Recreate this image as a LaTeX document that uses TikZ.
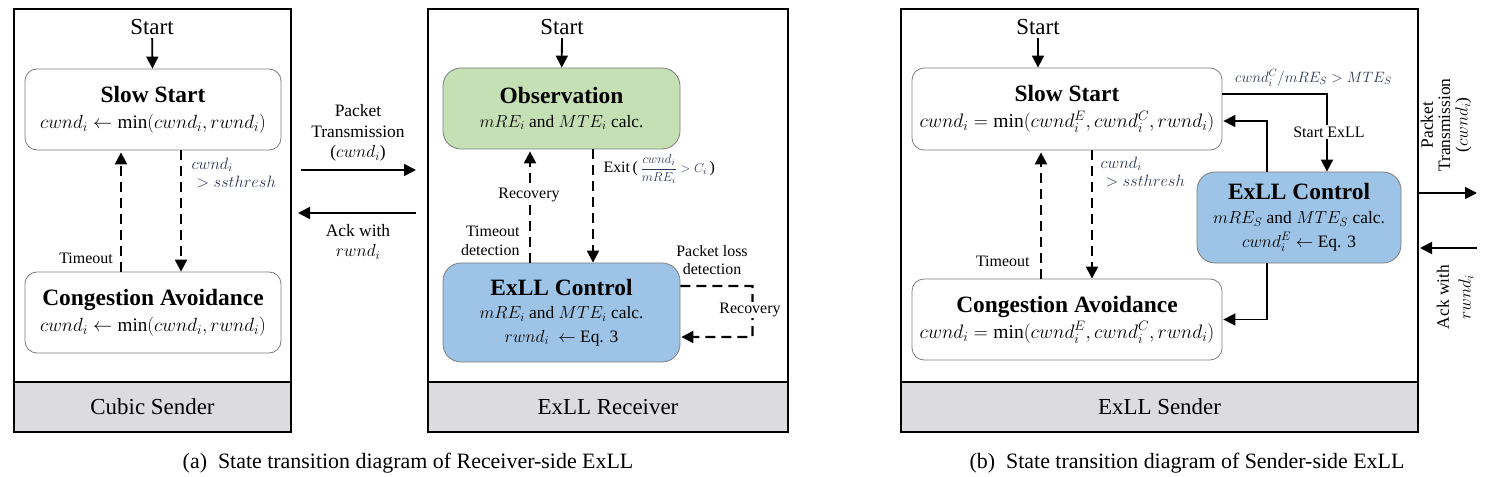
\RequirePackage{fix-cm}
\documentclass[tikz,border=0pt]{standalone}
\usepackage{amsmath,amssymb}
\usepackage{fontspec}
\setmainfont{Liberation Serif}
\usetikzlibrary{positioning,arrows.meta}

\definecolor{obsgreen}{RGB}{197,224,180}
\definecolor{ctlblue}{RGB}{157,195,230}
\definecolor{bandgray}{RGB}{220,220,222}
\definecolor{boxgray}{RGB}{125,125,125}
\definecolor{labelc}{RGB}{45,55,85}
\newcommand{\sttitle}[1]{{\fontsize{23.5}{26}\selectfont\bfseries #1}}

\begin{document}
\begin{tikzpicture}[>={Triangle[length=12bp,width=12bp]},x=1bp,y=-1bp,
  panel/.style={draw=black,line width=1.2bp},
  band/.style={draw=black,line width=1.2bp,fill=bandgray,minimum height=50bp,font=\fontsize{23}{26}\selectfont},
  state/.style={draw=boxgray,line width=0.8bp,rounded corners=12bp,align=center,minimum height=81bp,inner sep=0pt,font=\fontsize{19.6}{26}\selectfont},
  ctlstate/.style={state,rounded corners=18bp,font=\fontsize{17.5}{23.5}\selectfont},
  flow/.style={->,line width=1.8bp},
  dflow/.style={->,line width=2.2bp,dash pattern=on 10bp off 6bp},
  lbl/.style={font=\fontsize{16}{19}\selectfont},
  mlbl/.style={font=\fontsize{16.5}{19}\selectfont,text=labelc,align=left},
  midlbl/.style={font=\fontsize{17.5}{20.5}\selectfont,align=center},
  caplbl/.style={font=\fontsize{22}{24}\selectfont},
]
\useasboundingbox (0,0) rectangle (1486,477);
%% (a) Cubic sender
\draw [panel] (14,9) rectangle (291,432);
\node (band1) at (152.5,407) [band,minimum width=277bp] {Cubic Sender};
\node (start1) at (152,27) [font=\fontsize{23}{26}\selectfont] {Start};
\node (ss1) at (153,109.5) [state,minimum width=256bp,font=\fontsize{19.2}{26}\selectfont] {\sttitle{Slow Start}\\$cwnd_i \leftarrow \min(cwnd_i, rwnd_i)$};
\node (ca1) at (153,312.5) [state,minimum width=256bp,font=\fontsize{19.2}{26}\selectfont] {\sttitle{Congestion Avoidance}\\$cwnd_i \leftarrow \min(cwnd_i, rwnd_i)$};
\draw [flow] (start1) -- (ss1);
\draw [dflow] ([xshift=-32bp]ca1.north) -- ([xshift=-32bp,yshift=-2bp]ss1.south);
\draw [dflow] ([xshift=28bp]ss1.south) -- ([xshift=28bp]ca1.north);
\node (ssth1) at (188,173) [mlbl,anchor=west] {$cwnd_i$\\\hspace*{5bp}$> ssthresh$};
\node (tout1) at (86,258) [lbl] {Timeout};
%% links between sender and receiver
\coordinate (tx1a) at (301,170);
\coordinate (tx1b) at (416,170);
\coordinate (ack1a) at (416,213);
\coordinate (ack1b) at (298,213);
\draw [flow] (tx1a) -- (tx1b);
\draw [flow] (ack1a) -- (ack1b);
\node (txlbl1) at (358,133) [midlbl] {Packet\\Transmission\\($cwnd_i$)};
\node (acklbl1) at (358,242) [midlbl] {Ack with\\$rwnd_i$};
%% ExLL receiver
\draw [panel] (428,9) rectangle (788,432);
\node (band2) at (608,407) [band,minimum width=360bp] {ExLL Receiver};
\node (start2) at (562,27) [font=\fontsize{23}{26}\selectfont] {Start};
\node (obs) at (561.5,108.5) [ctlstate,fill=obsgreen,minimum width=237bp] {\sttitle{Observation}\\$mRE_i$ and $MTE_i$ calc.};
\node (ctl1) at (561.5,312.5) [ctlstate,fill=ctlblue,minimum width=237bp,minimum height=99bp] {\sttitle{ExLL Control}\\$mRE_i$ and $MTE_i$ calc.\\$rwnd_i\ \leftarrow$ Eq. 3};
\draw [flow] (start2) -- (obs);
\draw [dflow] ([xshift=-31.5bp]ctl1.north) -- ([xshift=-31.5bp,yshift=-2bp]obs.south);
\draw [dflow] ([xshift=31.5bp]obs.south) -- ([xshift=31.5bp]ctl1.north);
\node (rec1) at (529,195) [lbl,fill=white,inner sep=1.5bp] {Recovery};
\node (tdet) at (523,241) [lbl,anchor=east,align=right,font=\fontsize{16}{19}\selectfont] {Timeout\\detection};
\node (exit) at (600,169) [lbl,anchor=west] {Exit\,(\,{\fontsize{13}{15}\selectfont\textcolor{labelc}{$\dfrac{cwnd_i}{mRE_i} > C_i$}}\,)};
\draw [dflow] ([yshift=26.5bp]ctl1.east) -- ++(72,0) -- ++(0,51) -- ([yshift=-24.5bp,xshift=1bp]ctl1.east);
\node (rec2) at (750,310) [lbl,fill=white,inner sep=1.5bp] {Recovery};
\node (pldet) at (712,260) [lbl,align=center,font=\fontsize{16}{18.5}\selectfont] {Packet loss\\detection};
\node (capa) at (408,463) [caplbl] {(a)\enspace State transition diagram of Receiver-side ExLL};
%% (b) ExLL sender
\draw [panel] (901,9) rectangle (1418,432);
\node (band3) at (1159.5,407) [band,minimum width=517bp] {ExLL Sender};
\node (start3) at (1038,27) [font=\fontsize{23}{26}\selectfont] {Start};
\node (ss3) at (1067,109) [state,minimum width=310bp,minimum height=82bp] {\sttitle{Slow Start}\\$cwnd_i = \min(cwnd_i^E, cwnd_i^C, rwnd_i)$};
\node (ca3) at (1067,319.5) [state,minimum width=310bp] {\sttitle{Congestion Avoidance}\\$cwnd_i = \min(cwnd_i^E, cwnd_i^C, rwnd_i)$};
\node (ctl3) at (1299,217.5) [ctlstate,fill=ctlblue,minimum width=204bp,minimum height=91bp,font=\fontsize{17.5}{24}\selectfont] {\sttitle{ExLL Control}\\$mRE_S$ and $MTE_S$ calc.\\$cwnd_i^E \leftarrow$ Eq. 3};
\draw [flow] (start3.south) -- (start3.south |- ss3.north);
\draw [dflow] ([xshift=-26bp]ca3.north) -- ([xshift=-26bp,yshift=-2bp]ss3.south);
\draw [dflow] ([xshift=25bp]ss3.south) -- ([xshift=25bp]ca3.north);
\node (ssth3) at (1097,172) [mlbl,anchor=west] {$cwnd_i$\\\hspace*{5bp}$> ssthresh$};
\node (tout3) at (1033,261) [lbl,anchor=east] {Timeout};
\draw [flow] ([yshift=15bp]ss3.east) -| ([xshift=28bp]ctl3.north);
\node (startx) at (1329,132) [lbl,fill=white,inner sep=2bp] {Start ExLL};
\node (cond3) at (1234,78) [mlbl,anchor=west,inner sep=1bp,font=\fontsize{15}{18}\selectfont] {$cwnd_i^C/mRE_S > MTE_S$};
\draw [flow] ([xshift=-32bp]ctl3.north) |- ([yshift=-12bp,xshift=1bp]ss3.east);
\draw [flow] ([xshift=-32bp]ctl3.south) |- ([xshift=1bp]ca3.east);
\coordinate (tx3a) at (1418,193);
\coordinate (tx3b) at (1477,193);
\coordinate (ack3a) at (1477,248);
\coordinate (ack3b) at (1420,248);
\draw [flow] (tx3a) -- (tx3b);
\draw [flow] (ack3a) -- (ack3b);
\node (txlbl3) at (1446,125) [midlbl,rotate=90,font=\fontsize{17.5}{17.5}\selectfont] {Packet\\Transmission\\($cwnd_i$)};
\node (acklbl3) at (1455,297) [midlbl,rotate=90,font=\fontsize{17.5}{22}\selectfont] {Ack with\\$rwnd_i$};
\node (capb) at (1187,463) [caplbl] {(b)\enspace State transition diagram of Sender-side ExLL};
%
\end{tikzpicture}
\end{document}
